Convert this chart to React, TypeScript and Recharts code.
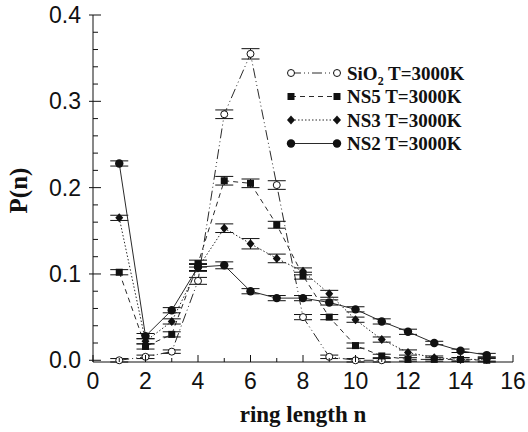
import React from 'react'
import { ComposedChart, Line, XAxis, YAxis, ErrorBar, Legend } from 'recharts'

// ring length n
const ringLength = [1, 2, 3, 4, 5, 6, 7, 8, 9, 10, 11, 12, 13, 14, 15]

// P(n) per glass
const sio2 = [0.0, 0.004, 0.01, 0.092, 0.285, 0.355, 0.203, 0.05, 0.004, 0.0, 0.0, null, null, null, null]
const sio2Err = [0.002, 0.002, 0.002, 0.004, 0.005, 0.006, 0.005, 0.003, 0.002, 0.002, 0.002, null, null, null, null]
const ns5 = [0.102, 0.016, 0.03, 0.112, 0.208, 0.205, 0.157, 0.098, 0.05, 0.017, 0.005, 0.001, 0.001, 0.001, 0.0]
const ns5Err = [0.003, 0.003, 0.003, 0.004, 0.005, 0.005, 0.004, 0.004, 0.003, 0.003, 0.002, 0.002, 0.002, 0.002, 0.002]
const ns3 = [0.165, 0.022, 0.045, 0.107, 0.153, 0.135, 0.118, 0.103, 0.077, 0.047, 0.024, 0.009, 0.003, 0.001, 0.001]
const ns3Err = [0.003, 0.003, 0.003, 0.004, 0.005, 0.006, 0.005, 0.004, 0.004, 0.003, 0.003, 0.003, 0.002, 0.002, 0.002]
const ns2 = [0.228, 0.028, 0.058, 0.108, 0.11, 0.08, 0.072, 0.072, 0.067, 0.059, 0.045, 0.033, 0.02, 0.011, 0.006]
const ns2Err = [0.003, 0.003, 0.003, 0.004, 0.004, 0.003, 0.003, 0.003, 0.003, 0.003, 0.003, 0.003, 0.002, 0.002, 0.002]

const xTicks = [0, 1, 2, 3, 4, 5, 6, 7, 8, 9, 10, 11, 12, 13, 14, 15, 16]
const yTicks = [0, 0.02, 0.04, 0.06, 0.08, 0.1, 0.12, 0.14, 0.16, 0.18, 0.2, 0.22, 0.24, 0.26, 0.28, 0.3, 0.32, 0.34, 0.36, 0.38, 0.4]

const series = [
  { key: 'sio2', label: 'SiO', dash: '10 3 1 3 1 3', marker: 'open' },
  { key: 'ns5', label: 'NS5 T=3000K', dash: '5 4', marker: 'square' },
  { key: 'ns3', label: 'NS3 T=3000K', dash: '1.5 2', marker: 'diamond' },
  { key: 'ns2', label: 'NS2 T=3000K', dash: undefined, marker: 'circle' },
]

const data = ringLength.map((n, i) => ({
  n,
  sio2: sio2[i], sio2Err: sio2Err[i],
  ns5: ns5[i], ns5Err: ns5Err[i],
  ns3: ns3[i], ns3Err: ns3Err[i],
  ns2: ns2[i], ns2Err: ns2Err[i],
}))

const ink = '#111'
const lineInk = '#2a2a2a'
const tickFont = '"Liberation Sans", Arial, sans-serif'
const titleFont = '"Liberation Serif", "Times New Roman", serif'

const drawMarker = (kind: string, cx: number, cy: number, key?: any) => {
  if (kind === 'open') return <circle key={key} cx={cx} cy={cy} r={3.5} fill="#fff" stroke={ink} strokeWidth={1} />
  if (kind === 'square') return <rect key={key} x={cx - 3.5} y={cy - 3.5} width={7} height={7} fill={ink} />
  if (kind === 'diamond') return <path key={key} d={`M${cx},${cy - 4.5}L${cx + 4},${cy}L${cx},${cy + 4.5}L${cx - 4},${cy}Z`} fill={ink} />
  return <circle key={key} cx={cx} cy={cy} r={4.2} fill={ink} />
}

const makeDot = (kind: string) => (props: any) => {
  const { cx, cy, index, value } = props
  if (value == null || cy == null || isNaN(cy)) return <g key={`e-${index}`} />
  return drawMarker(kind, cx, cy, `d-${index}`)
}

const BottomTick = (props: any) => {
  const { x, y, payload } = props
  const major = payload.value % 2 === 0
  return (
    <g>
      <line x1={x} x2={x} y1={y} y2={y - (major ? 7 : 4)} stroke={ink} />
      {major && (
        <text x={x} y={y + 27} textAnchor="middle" fontFamily={tickFont} fontSize={23} fill={ink}>
          {payload.value}
        </text>
      )}
    </g>
  )
}

const TopTick = (props: any) => {
  const { x, y, payload } = props
  const major = payload.value % 2 === 0
  return <line x1={x} x2={x} y1={y} y2={y + (major ? 7 : 4)} stroke={ink} />
}

const LeftTick = (props: any) => {
  const { x, y, payload } = props
  const major = Math.round(payload.value * 100) % 10 === 0
  return (
    <g>
      <line x1={major ? x - 4 : x} x2={x + (major ? 8 : 5)} y1={y} y2={y} stroke={ink} />
      {major && (
        <text x={x - 12} y={y + 8} textAnchor="end" fontFamily={tickFont} fontSize={23} fill={ink}>
          {payload.value.toFixed(1)}
        </text>
      )}
    </g>
  )
}

const RightTick = (props: any) => {
  const { x, y, payload } = props
  const major = Math.round(payload.value * 100) % 10 === 0
  return <line x1={x} x2={x - (major ? 8 : 5)} y1={y} y2={y} stroke={ink} />
}

const renderLegend = () => (
  <svg width={240} height={100}>
    {series.map((s, i) => {
      const cy = 13 + i * 23.5
      return (
        <g key={s.key}>
          <line x1={11} x2={57} y1={cy} y2={cy} stroke={lineInk} strokeDasharray={s.dash} />
          {drawMarker(s.marker, 11, cy)}
          {drawMarker(s.marker, 57, cy)}
          {s.key === 'sio2' ? (
            <text x={67} y={cy + 6.5} fontFamily={titleFont} fontWeight="bold" fontSize={19} fill={ink}>
              SiO<tspan fontSize={12} dy={5}>2</tspan><tspan dy={-5}> T=3000K</tspan>
            </text>
          ) : (
            <text x={67} y={cy + 6.5} fontFamily={titleFont} fontWeight="bold" fontSize={19} fill={ink}>
              {s.label}
            </text>
          )}
        </g>
      )
    })}
  </svg>
)

const YTitle = (props: any) => {
  const { viewBox } = props
  const cx = viewBox.x + 18
  const cy = viewBox.y + viewBox.height / 2 + 2
  return (
    <text x={cx} y={cy} transform={`rotate(-90, ${cx}, ${cy})`} textAnchor="middle" dominantBaseline="central"
      fontFamily={titleFont} fontWeight="bold" fontSize={25} fill={ink}>
      P(n)
    </text>
  )
}

const App: React.FC = () => {
  return (
    <div style={{ position: 'absolute', left: 0, top: 0, background: '#fff' }}>
      <ComposedChart width={528} height={432} data={data} margin={{ top: 15, right: 15, bottom: 0, left: 0 }}>
        <XAxis xAxisId="b" dataKey="n" type="number" domain={[0, 16]} ticks={xTicks} interval={0}
          orientation="bottom" height={70} tickSize={0} tickMargin={0} tick={<BottomTick />} stroke={ink}
          label={{ value: 'ring length n', position: 'insideBottom', offset: 10,
            style: { fontFamily: titleFont, fontWeight: 'bold', fontSize: 23, fill: ink } }} />
        <XAxis xAxisId="t" dataKey="n" type="number" domain={[0, 16]} ticks={xTicks} interval={0}
          orientation="top" height={0} tickSize={0} tickMargin={0} tick={<TopTick />} stroke={ink} />
        <YAxis yAxisId="l" type="number" domain={[0, 0.4]} ticks={yTicks} interval={0}
          orientation="left" width={93} tickSize={0} tickMargin={0} tick={<LeftTick />} stroke={ink}
          label={<YTitle />} />
        <YAxis yAxisId="r" type="number" domain={[0, 0.4]} ticks={yTicks} interval={0}
          orientation="right" width={0} tickSize={0} tickMargin={0} tick={<RightTick />} stroke={ink} />
        <Legend verticalAlign="middle" layout="horizontal" content={renderLegend}
          wrapperStyle={{ position: 'absolute', left: 280, top: 60, width: 240, height: 100 }} />
        {series.map(s => (
          <Line key={s.key} xAxisId="b" yAxisId="l" type="linear" dataKey={s.key} stroke={lineInk}
            strokeWidth={1} strokeDasharray={s.dash} dot={makeDot(s.marker)} activeDot={false}
            isAnimationActive={false} legendType="none">
            <ErrorBar dataKey={`${s.key}Err`} direction="y" width={9} stroke={ink} strokeWidth={1}
              isAnimationActive={false} />
          </Line>
        ))}
      </ComposedChart>
    </div>
  )
}

export default App
